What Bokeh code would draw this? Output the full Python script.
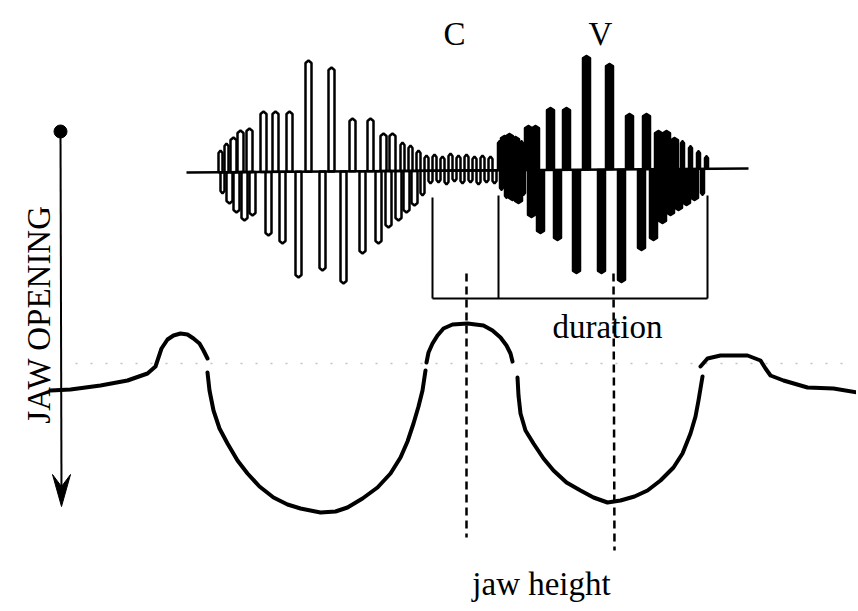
import math
from bokeh.plotting import figure
from bokeh.models import Range1d
from bokeh.core.properties import value
from bokeh.embed import file_html
from bokeh.resources import INLINE

# ---------------- data (page-pixel coordinates) ----------------
# acoustic waveform, first syllable (outlined lobes): lobe position and peak level
burst1_x = [220, 222, 226, 229, 233, 236, 240, 244, 249, 252,
            263, 268, 275, 282, 289, 298, 308, 322, 331, 343, 352, 362, 370, 378,
            383, 388, 392, 398, 402, 406, 410, 414, 418, 422,
            426, 430, 434, 438, 442, 446, 450, 454, 458, 462, 466, 470, 474, 478,
            482, 486, 490, 494]
burst1_y = [150, 193, 143, 203, 137, 212, 130, 220, 128, 215,
            111, 235, 111, 243, 111, 277, 60, 270, 67, 283, 118, 253, 118, 243,
            133, 227, 133, 220, 142, 212, 145, 205, 150, 195,
            155, 183, 154, 182, 156, 184, 153, 181, 155, 183, 154, 182, 156, 184,
            155, 182, 156, 183]
# acoustic waveform, vowel part (filled lobes)
burst2_x = [499, 501, 504, 506, 509, 512, 515, 518, 521, 523,
            528, 531, 535, 540, 550, 557, 566, 576, 586, 601, 609, 621,
            629, 641, 646, 653, 658, 662, 666, 670, 674, 678, 682, 686,
            690, 694, 698, 702, 706]
burst2_y = [140, 190, 135, 198, 133, 200, 136, 203, 140, 195,
            125, 217, 125, 233, 107, 240, 107, 273, 55, 273, 63, 282,
            113, 250, 113, 240, 130, 223, 130, 215, 137, 210, 140, 205,
            145, 200, 150, 195, 155]
# jaw movement trace (NaN = small breaks in the trace)
nan = float("nan")
jaw_x = [50, 70, 100, 127, 147, 155, 158, 161, 167, 173, 180, 187, 193, 199, 203, 207, nan,
         207, 209, 213, 219, 227, 237, 247, 259, 273, 287, 300, 320, 335, 347, 362, 377, 390,
         400, 407, 413, 418, 422, 425, nan,
         426, 428, 432, 437, 443, 452, 467, 483, 492, 500, 506, 510, 512, nan,
         517, 518, 520, 525, 533, 543, 553, 566, 580, 593, 607, 620, 634, 647, 660,
         673, 682, 690, 695, 698, 702, nan,
         700, 707, 720, 747, 760, 765, 770, 783, 807, 833, 857]
jaw_y = [390, 389, 385, 380, 373, 366, 357, 348, 339, 335, 333, 334, 338, 343, 350, 358, nan,
         372, 390, 410, 428, 443, 460, 473, 486, 497, 504, 508, 512, 511, 507, 498, 487, 473,
         457, 441, 423, 406, 390, 370, nan,
         362, 352, 343, 335, 328, 324, 323, 325, 330, 337, 345, 353, 361, nan,
         377, 395, 413, 430, 443, 458, 470, 482, 490, 497, 502, 500, 496, 490, 480,
         467, 453, 433, 416, 400, 376, nan,
         366, 358, 355, 355, 360, 368, 375, 380, 387, 388, 392]

labels = ["C", "V", "duration", "jaw height", "JAW OPENING"]

# ---------------- diagram geometry ----------------
BASE_X = [186, 748]
BASE_Y = [172, 168]

def base_at(x):
    return BASE_Y[0] + (BASE_Y[1] - BASE_Y[0]) * (x - BASE_X[0]) / (BASE_X[1] - BASE_X[0])

def lobes(xs, ys, wbig, wsmall):
    px, py = [], []
    for x, y in zip(xs, ys):
        b = base_at(x)
        d = 1 if y > b else -1
        w = wbig if abs(y - b) > 30 else wsmall
        yc = y - d * 2.5
        px.append([x - w / 2, x - w / 2, x, x + w / 2, x + w / 2])
        py.append([b, yc, y, yc, b])
    return px, py

W, H = 856, 609
p = figure(width=W, height=H, x_range=Range1d(0, W), y_range=Range1d(H, 0),
           output_backend="svg", toolbar_location=None, min_border=0,
           x_axis_type=None, y_axis_type=None)
p.grid.visible = False
p.outline_line_color = None
p.background_fill_color = "white"

FONT = value("Liberation Serif")

# faint dotted reference line
p.line([75, 852], [363, 363], line_color="#c4c4c4", line_width=1.5, line_dash="2 13")

# waveform
p.line(BASE_X, BASE_Y, line_color="black", line_width=2.5)
b1x, b1y = lobes(burst1_x, burst1_y, 6, 4)
p.patches(b1x, b1y, fill_color=None, line_color="black", line_width=2.5)
b2x, b2y = lobes(burst2_x, burst2_y, 8, 4)
p.patches(b2x, b2y, fill_color="black", line_color="black", line_width=1.5)

# bracket under the waveform
p.multi_line([[432, 432], [498, 498], [707, 707], [432, 707]],
             [[197, 298], [195, 298], [195, 298], [298, 298]],
             line_color="black", line_width=2)

# dashed guides
p.line([466, 466], [273, 537], line_color="black", line_width=2.5, line_dash="8 5")
p.line([613, 614], [273, 550], line_color="black", line_width=2.5, line_dash="8 5")

# jaw trace
p.line(jaw_x, jaw_y, line_color="black", line_width=4, line_join="round", line_cap="round")

# jaw opening arrow
p.line([60, 61], [131, 495], line_color="black", line_width=2)
p.patch([61, 52, 61, 70], [506, 474, 486, 474], fill_color="black", line_color="black", line_width=1)
p.scatter([60], [131], size=13, fill_color="black", line_color="black")

# texts
p.text(x=[454, 600], y=[33, 33], text=labels[:2], text_font=FONT, text_font_size="33px",
       text_align="center", text_baseline="alphabetic", text_color="black")
p.text(x=[607], y=[326], text=[labels[2]], text_font=FONT, text_font_size="33px",
       text_align="center", text_baseline="alphabetic", text_color="black")
p.text(x=[541], y=[583], text=[labels[3]], text_font=FONT, text_font_size="33px",
       text_align="center", text_baseline="alphabetic", text_color="black")
p.text(x=[38], y=[314], text=[labels[4]], text_font=FONT, text_font_size="33px",
       angle=math.pi / 2, text_align="center", text_baseline="alphabetic", text_color="black")

open("out.html", "w").write(file_html(p, INLINE))
